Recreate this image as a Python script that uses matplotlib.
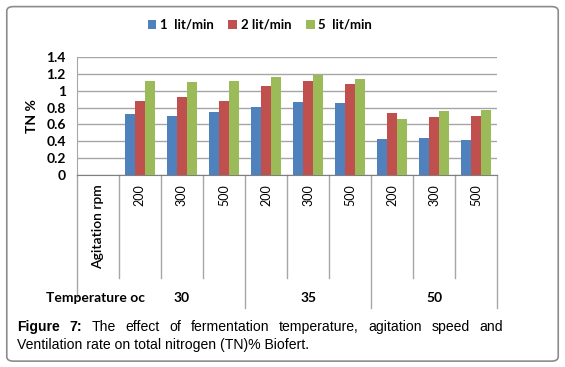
import matplotlib.pyplot as plt
from matplotlib.patches import FancyBboxPatch
import numpy as np

# data
temps = ['30', '35', '50']
rpm = ['200', '300', '500', '200', '300', '500', '200', '300', '500']
series_names = ['1  lit/min', '2 lit/min', '5  lit/min']
flow1 = [0.72, 0.70, 0.75, 0.81, 0.87, 0.85, 0.43, 0.44, 0.41]
flow2 = [0.88, 0.92, 0.88, 1.05, 1.12, 1.08, 0.74, 0.69, 0.70]
flow5 = [1.11, 1.10, 1.12, 1.16, 1.18, 1.14, 0.66, 0.76, 0.77]
colors = ['#4F81BD', '#C0504D', '#9BBB59']

plt.rcParams['font.family'] = ['Lato', 'DejaVu Sans']

fig = plt.figure(figsize=(5.65, 3.67), dpi=100)
ax = fig.add_axes([0.136, 0.523, 0.744, 0.322])

# first slot is the "Agitation rpm" header, bars start at slot 1
x = np.arange(1, len(rpm) + 1)
w = 0.24
for k, vals in enumerate([flow1, flow2, flow5]):
    ax.bar(x + (k - 1) * w, vals, w, color=colors[k], label=series_names[k], zorder=3)

ax.set_xlim(-0.5, len(rpm) + 0.5)
ax.set_ylim(0, 1.4)
ax.set_yticks(np.arange(0, 1.41, 0.2))
ax.set_yticklabels(['0', '0.2', '0.4', '0.6', '0.8', '1', '1.2', '1.4'],
                   fontsize=10, fontweight='bold')
ax.yaxis.grid(True, color='#A6A6A6', lw=1, zorder=0)
ax.tick_params(axis='y', length=0, pad=8)
ax.tick_params(axis='x', length=0, labelbottom=False)
for s in ['top', 'right']:
    ax.spines[s].set_visible(False)
ax.spines['left'].set_color('#A6A6A6')
ax.spines['bottom'].set_color('#7F7F7F')
ax.set_ylabel('TN %', fontsize=10, fontweight='bold', labelpad=6)

tr = ax.get_xaxis_transform()
# category separators below the axis
for b in np.arange(0.5, len(rpm) + 0.6, 1.0):
    if b in (3.5, 6.5, 9.5):
        y_end = -1.127
    else:
        y_end = -0.873
    ax.plot([b, b], [0, y_end], color='#A6A6A6', lw=1, transform=tr, clip_on=False)
ax.plot([-0.5, -0.5], [0, -1.03], color='#A6A6A6', lw=1, transform=tr, clip_on=False)

for xi, lab in zip(x, rpm):
    ax.text(xi, -0.08, lab, rotation=90, ha='center', va='top', fontsize=9,
            transform=tr)
ax.text(0, -0.08, 'Agitation rpm', rotation=90, ha='center', va='top', fontsize=10,
        fontweight='semibold', transform=tr)

for i, t in enumerate(temps):
    ax.text(2 + 3 * i, -1.04, t, ha='center', va='center', fontsize=10,
            fontweight='bold', transform=tr)
ax.text(-0.05, -1.04, 'Temperature oc', ha='center', va='center', fontsize=10,
        fontweight='bold', transform=tr)

leg = ax.legend(loc='center', bbox_to_anchor=(0.46, 0.932), bbox_transform=fig.transFigure,
                ncol=3, frameon=False, handlelength=0.65, handleheight=0.65,
                handletextpad=0.3, columnspacing=1.1, prop={'weight': 'bold', 'size': 9.5})

# rounded frame around the figure
frame = FancyBboxPatch((0.012, 0.016), 0.976, 0.966, boxstyle='round,pad=0,rounding_size=0.012',
                       transform=fig.transFigure, fill=False, ec='#8C8C8C', lw=1.2)
fig.patches.append(frame)

# justified caption, first line
cap_font = dict(family='Liberation Sans', fontsize=10.1)
line1 = ['Figure', '7:', 'The', 'effect', 'of', 'fermentation', 'temperature,',
         'agitation', 'speed', 'and']
bold_words = {'Figure', '7:'}
left_px, right_px = 17, 503
fig.canvas.draw()
r = fig.canvas.get_renderer()
widths = []
txts = []
for wd in line1:
    t = fig.text(0, 0, wd, fontweight='bold' if wd in bold_words else 'normal',
                 va='center', **cap_font)
    widths.append(t.get_window_extent(r).width)
    txts.append(t)
gap = (right_px - left_px - sum(widths)) / (len(line1) - 1)
xp = left_px
for t, wpx in zip(txts, widths):
    t.set_position((xp / 565, 1 - 327 / 367))
    xp += wpx + gap
fig.text(left_px / 565, 1 - 345 / 367, 'Ventilation rate on total nitrogen (TN)% Biofert.',
         va='center', **cap_font)

fig.savefig('out.png', dpi=100)
